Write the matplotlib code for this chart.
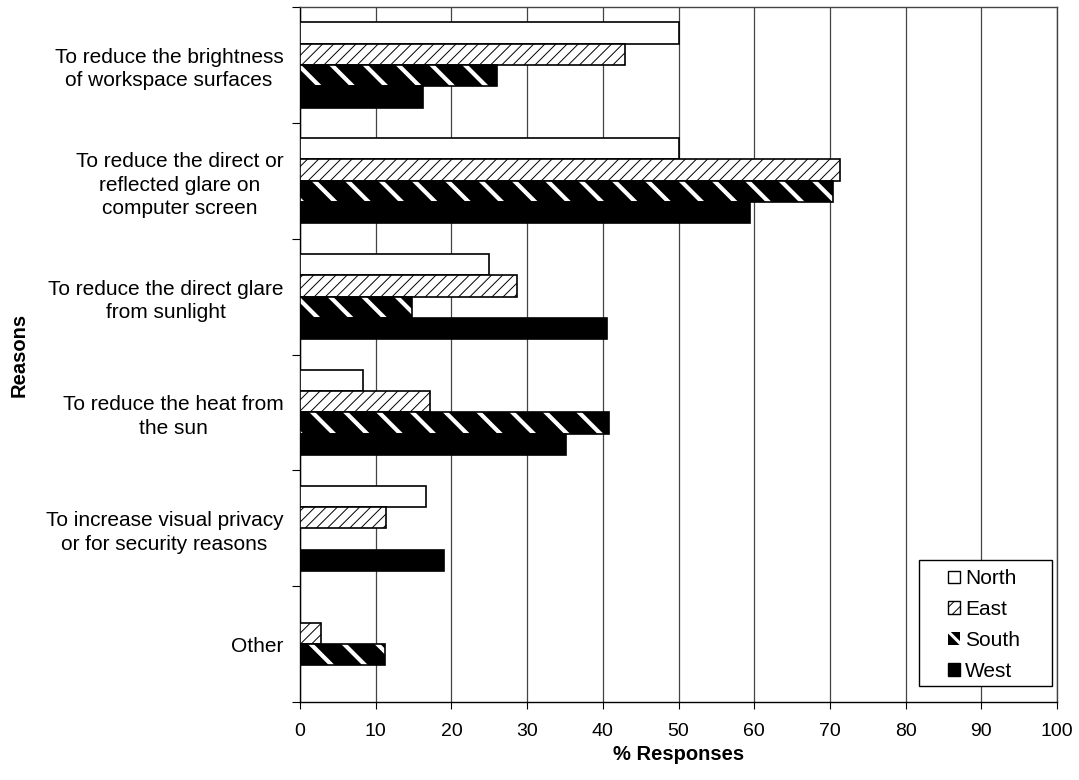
import numpy as np
import matplotlib
matplotlib.use("Agg")
import matplotlib.pyplot as plt
from matplotlib.patches import Patch, Rectangle

plt.rcParams['font.family'] = ['Liberation Sans', 'DejaVu Sans']

reasons = ["To reduce the brightness\nof workspace surfaces",
           "To reduce the direct or\nreflected glare on\ncomputer screen",
           "To reduce the direct glare\nfrom sunlight",
           "To reduce the heat from\nthe sun",
           "To increase visual privacy\nor for security reasons",
           "Other"]
north = [50.0, 50.0, 25.0, 8.3, 16.7, 0.0]
east = [42.9, 71.4, 28.6, 17.2, 11.4, 2.8]
south = [26.0, 70.4, 14.8, 40.8, 0.0, 11.2]
west = [16.2, 59.5, 40.6, 35.2, 19.0, 0.0]
regions = ["North", "East", "South", "West"]
xticks = list(range(0, 101, 10))

fig = plt.figure(figsize=(10.79, 7.80), dpi=100)
ax = fig.add_axes([300/1079, 1 - 702/780, 757/1079, 695/780])

y = np.arange(len(reasons))
h = 0.184
offs = [-1.5*h, -0.5*h, 0.5*h, 1.5*h]

def hbars(vals, off, hatch_lw, **kw):
    with plt.rc_context({'hatch.linewidth': hatch_lw}):
        b = ax.barh(y + off, vals, height=h, zorder=3, **kw)
    for p in b:
        if hasattr(p, "set_hatch_linewidth"):
            p.set_hatch_linewidth(hatch_lw)
    return b

# North: white
hbars(north, offs[0], 1.0, color='white', edgecolor='black', linewidth=1.2)
# East: fine forward hatch
hbars(east, offs[1], 0.7, color='white', edgecolor='black', linewidth=1.2, hatch='///')
# South: black with thick white back-diagonal stripes
hbars(south, offs[2], 3.0, color='black', edgecolor='white', linewidth=0, hatch='\\')
hbars(south, offs[2], 1.0, fill=False, edgecolor='black', linewidth=1.2)
# West: solid black
hbars(west, offs[3], 1.0, color='black', edgecolor='black', linewidth=1.2)

ax.set_xlim(0, 100)
ax.set_ylim(len(reasons) - 0.5, -0.5)
ax.set_xticks(xticks)
ax.set_xticklabels([str(v) for v in xticks], fontsize=14)
ax.xaxis.grid(True, color='#444444', linewidth=0.9, zorder=0)
ax.set_axisbelow(True)

ax.set_yticks(np.arange(-0.5, len(reasons)), labels=[])
ax.set_yticks(y, labels=reasons, minor=True, fontsize=15)
ax.tick_params(axis='y', which='minor', length=0, pad=12)
ax.tick_params(axis='y', which='major', length=6, direction='out')
ax.tick_params(axis='x', length=5, direction='out', pad=10)
for t in ax.get_yticklabels(minor=True):
    t.set_multialignment('center')
    t.set_linespacing(1.3)

for s in ax.spines.values():
    s.set_color('black')
    s.set_linewidth(1.0)
ax.spines['top'].set_color('#444444')
ax.spines['right'].set_color('#444444')

ax.set_xlabel("% Responses", fontsize=14.5, fontweight='bold')
ax.xaxis.set_label_coords(0.5, -0.062)
ax.set_ylabel("Reasons", fontsize=14.5, fontweight='bold')
ax.yaxis.set_label_coords(-0.358, 0.5)

# legend box
ax.add_patch(Rectangle((0.818, 0.023), 0.175, 0.181, transform=ax.transAxes,
                       facecolor='white', edgecolor='black', linewidth=1.0,
                       zorder=5, clip_on=False))
handles = [Patch(facecolor='white', edgecolor='black'),
           Patch(facecolor='white', edgecolor='black', hatch='///'),
           Patch(facecolor='black', edgecolor='white', linewidth=0, hatch='\\\\'),
           Patch(facecolor='black', edgecolor='black')]
leg = ax.legend(handles, regions, loc='center', bbox_to_anchor=(0.9035, 0.1108),
                fontsize=15, frameon=False, handlelength=0.55, handleheight=0.55,
                handletextpad=0.25, labelspacing=0.57, borderpad=0, borderaxespad=0)
leg.set_zorder(6)
for i, (p, lw) in enumerate(zip(leg.legend_handles, [1.0, 0.7, 2.2, 1.0])):
    if hasattr(p, "set_hatch_linewidth"):
        p.set_hatch_linewidth(lw)
    if i == 2:
        p.set_edgecolor('white')
        p.set_linewidth(0)

fig.savefig("out.png", dpi=100)
